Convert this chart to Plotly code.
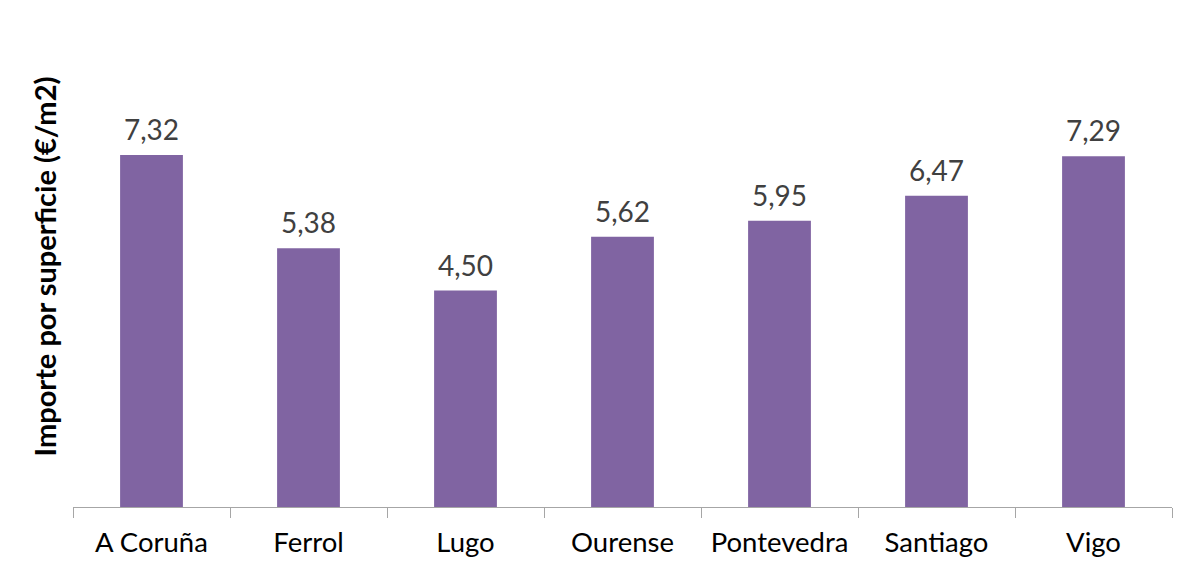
import plotly.graph_objects as go

categories = ["A Coruña", "Ferrol", "Lugo", "Ourense", "Pontevedra", "Santiago", "Vigo"]
values = [7.32, 5.38, 4.50, 5.62, 5.95, 6.47, 7.29]
labels = [f"{v:.2f}".replace(".", ",") for v in values]

FONT = "Lato, 'Open Sans', sans-serif"

fig = go.Figure(go.Bar(x=categories, y=values, marker_color="#8064A2",
                       marker_line_width=0, width=0.4))

for c, v, t in zip(categories, values, labels):
    fig.add_annotation(x=c, y=v, text=t, showarrow=False, yanchor="bottom",
                       yshift=7, font=dict(family=FONT, size=28, color="#404040"))

fig.update_layout(
    width=1192, height=571,
    margin=dict(l=65, r=28, t=18, b=72),
    plot_bgcolor="white", paper_bgcolor="white",
    showlegend=False,
    bargap=0.6,
    xaxis=dict(showline=True, linecolor="#A6A6A6", linewidth=1,
               ticks="outside", tickson="boundaries", ticklen=10,
               tickcolor="#A6A6A6", ticklabelstandoff=11, automargin=False,
               tickfont=dict(family=FONT, size=27.5, color="#000000"),
               showgrid=False, zeroline=False),
    yaxis=dict(range=[0, 10], showticklabels=False, showgrid=False,
               zeroline=False, showline=False, automargin=False,
               title=dict(text="<b>Importe por superficie (€/m2)</b>", standoff=6,
                          font=dict(family=FONT, size=29, color="#000000"))),
)

fig.write_html("out.html")
